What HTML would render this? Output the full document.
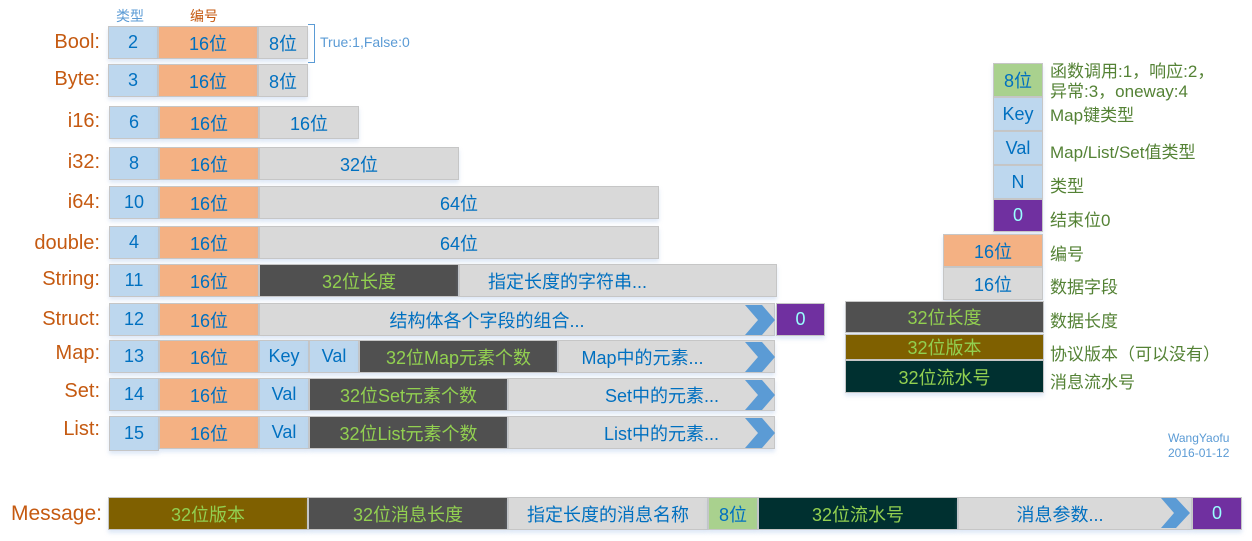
<!DOCTYPE html>
<html><head><meta charset="utf-8"><style>
body{margin:0;width:1252px;height:541px;background:#fff;position:relative;overflow:hidden;font-family:"Liberation Sans","Noto Sans CJK SC",sans-serif}
.c{position:absolute;box-sizing:border-box;border:1px solid #c6c6c6;display:flex;align-items:center;justify-content:center;font-size:18px;color:#0070C0;white-space:nowrap;box-shadow:0 3px 4px rgba(160,190,230,.35)}
.t{background:#BDD7EE}.o{background:#F4B183}.g{background:#D9D9D9}.d{background:#505050;color:#92D050}.p{background:#7030A0;color:#9FF}.b{background:#7F6000;color:#92D050}.k{background:#003030;color:#92D050}.gr{background:#A9D18E}
.l{position:absolute;color:#C55A11;font-size:20px;text-align:right;width:100px;left:0}
.n{position:absolute;color:#548235;font-size:17px;left:1050px;white-space:nowrap}
svg.a{position:absolute}
</style></head><body>
<div style="position:absolute;left:116px;top:6px;color:#5B9BD5;font-size:14px">类型</div>
<div style="position:absolute;left:190px;top:6px;color:#C55A11;font-size:14px">编号</div>
<div style="position:absolute;left:308px;top:24px;width:6px;height:37px;border:1.5px solid #5B9BD5;border-left:none"></div>
<div style="position:absolute;left:320px;top:34px;color:#5B9BD5;font-size:14px">True:1,False:0</div>

<div class="l" style="top:31px">Bool:</div>
<div class="c t" style="left:108px;top:26px;width:50px;height:33px">2</div>
<div class="c o" style="left:158px;top:26px;width:100px;height:33px">16位</div>
<div class="c g" style="left:258px;top:26px;width:50px;height:33px">8位</div>

<div class="l" style="top:68px">Byte:</div>
<div class="c t" style="left:108px;top:64px;width:50px;height:33px">3</div>
<div class="c o" style="left:158px;top:64px;width:100px;height:33px">16位</div>
<div class="c g" style="left:258px;top:64px;width:50px;height:33px">8位</div>

<div class="l" style="top:110px">i16:</div>
<div class="c t" style="left:109px;top:106px;width:50px;height:33px">6</div>
<div class="c o" style="left:159px;top:106px;width:100px;height:33px">16位</div>
<div class="c g" style="left:259px;top:106px;width:100px;height:33px">16位</div>

<div class="l" style="top:151px">i32:</div>
<div class="c t" style="left:109px;top:147px;width:50px;height:33px">8</div>
<div class="c o" style="left:159px;top:147px;width:100px;height:33px">16位</div>
<div class="c g" style="left:259px;top:147px;width:200px;height:33px">32位</div>

<div class="l" style="top:191px">i64:</div>
<div class="c t" style="left:109px;top:186px;width:50px;height:33px">10</div>
<div class="c o" style="left:159px;top:186px;width:100px;height:33px">16位</div>
<div class="c g" style="left:259px;top:186px;width:400px;height:33px">64位</div>

<div class="l" style="top:232px">double:</div>
<div class="c t" style="left:109px;top:226px;width:50px;height:33px">4</div>
<div class="c o" style="left:159px;top:226px;width:100px;height:33px">16位</div>
<div class="c g" style="left:259px;top:226px;width:400px;height:33px">64位</div>

<div class="l" style="top:268px">String:</div>
<div class="c t" style="left:109px;top:264px;width:50px;height:33px">11</div>
<div class="c o" style="left:159px;top:264px;width:100px;height:33px">16位</div>
<div class="c d" style="left:259px;top:264px;width:200px;height:33px">32位长度</div>
<div class="c g" style="left:459px;top:264px;width:318px;height:33px;justify-content:flex-start;padding-left:28px">指定长度的字符串...</div>

<div class="l" style="top:308px">Struct:</div>
<div class="c t" style="left:109px;top:303px;width:50px;height:33px">12</div>
<div class="c o" style="left:159px;top:303px;width:100px;height:33px">16位</div>
<div class="c g" style="left:259px;top:303px;width:516px;height:33px;padding-right:60px">结构体各个字段的组合...</div>
<div class="c p" style="left:776px;top:303px;width:49px;height:33px">0</div>

<div class="l" style="top:342px">Map:</div>
<div class="c t" style="left:109px;top:340px;width:50px;height:33px">13</div>
<div class="c o" style="left:159px;top:340px;width:100px;height:33px">16位</div>
<div class="c t" style="left:259px;top:340px;width:50px;height:33px">Key</div>
<div class="c t" style="left:309px;top:340px;width:50px;height:33px">Val</div>
<div class="c d" style="left:359px;top:340px;width:199px;height:33px">32位Map元素个数</div>
<div class="c g" style="left:558px;top:340px;width:217px;height:33px;padding-right:48px">Map中的元素...</div>

<div class="l" style="top:380px">Set:</div>
<div class="c t" style="left:109px;top:378px;width:50px;height:33px">14</div>
<div class="c o" style="left:159px;top:378px;width:100px;height:33px">16位</div>
<div class="c t" style="left:259px;top:378px;width:50px;height:33px">Val</div>
<div class="c d" style="left:309px;top:378px;width:199px;height:33px">32位Set元素个数</div>
<div class="c g" style="left:508px;top:378px;width:267px;height:33px;justify-content:flex-end;padding-right:55px">Set中的元素...</div>

<div class="l" style="top:418px">List:</div>
<div class="c t" style="left:109px;top:416px;width:50px;height:35px">15</div>
<div class="c o" style="left:159px;top:416px;width:100px;height:33px">16位</div>
<div class="c t" style="left:259px;top:416px;width:50px;height:33px">Val</div>
<div class="c d" style="left:309px;top:416px;width:199px;height:33px">32位List元素个数</div>
<div class="c g" style="left:508px;top:416px;width:267px;height:33px;justify-content:flex-end;padding-right:55px">List中的元素...</div>

<svg class="a" style="left:740px;top:300px" width="40" height="155">
<polygon points="5,5 22,5 35,20 22,35 5,35 18,20" fill="#5B9BD5"/>
<polygon points="5,42 22,42 35,57 22,72 5,72 18,57" fill="#5B9BD5"/>
<polygon points="5,80 22,80 35,95 22,110 5,110 18,95" fill="#5B9BD5"/>
<polygon points="5,118 22,118 35,133 22,148 5,148 18,133" fill="#5B9BD5"/>
</svg>

<!-- legend -->
<div class="c gr" style="left:993px;top:63px;width:50px;height:34px">8位</div>
<div class="c t" style="left:993px;top:97px;width:50px;height:34px">Key</div>
<div class="c t" style="left:993px;top:131px;width:50px;height:34px">Val</div>
<div class="c t" style="left:993px;top:165px;width:50px;height:34px">N</div>
<div class="c p" style="left:993px;top:199px;width:50px;height:33px">0</div>
<div class="c o" style="left:943px;top:234px;width:100px;height:33px">16位</div>
<div class="c g" style="left:943px;top:267px;width:100px;height:33px">16位</div>
<div class="c d" style="left:845px;top:301px;width:199px;height:32px">32位长度</div>
<div class="c b" style="left:845px;top:334px;width:199px;height:26px">32位版本</div>
<div class="c k" style="left:845px;top:360px;width:199px;height:33px">32位流水号</div>
<div class="n" style="top:62px;line-height:20px">函数调用:1，响应:2，<br>异常:3，oneway:4</div>
<div class="n" style="top:101px">Map键类型</div>
<div class="n" style="top:138px">Map/List/Set值类型</div>
<div class="n" style="top:172px">类型</div>
<div class="n" style="top:206px">结束位0</div>
<div class="n" style="top:240px">编号</div>
<div class="n" style="top:273px">数据字段</div>
<div class="n" style="top:307px">数据长度</div>
<div class="n" style="top:340px">协议版本（可以没有）</div>
<div class="n" style="top:368px">消息流水号</div>

<div style="position:absolute;left:1168px;top:431px;color:#5B9BD5;font-size:12px;line-height:15px;text-align:center">WangYaofu<br>2016-01-12</div>

<!-- message -->
<div class="l" style="top:502px;width:102px;font-size:21px">Message:</div>
<div class="c b" style="left:108px;top:497px;width:200px;height:33px">32位版本</div>
<div class="c d" style="left:308px;top:497px;width:200px;height:33px">32位消息长度</div>
<div class="c g" style="left:508px;top:497px;width:200px;height:33px">指定长度的消息名称</div>
<div class="c gr" style="left:708px;top:497px;width:50px;height:33px">8位</div>
<div class="c k" style="left:758px;top:497px;width:200px;height:33px">32位流水号</div>
<div class="c g" style="left:958px;top:497px;width:234px;height:33px;padding-right:30px">消息参数...</div>
<div class="c p" style="left:1192px;top:497px;width:50px;height:33px">0</div>
<svg class="a" style="left:1158px;top:495px" width="36" height="40"><polygon points="3,3 18,3 32,18 18,33 3,33 16,18" fill="#5B9BD5"/></svg>
</body></html>
